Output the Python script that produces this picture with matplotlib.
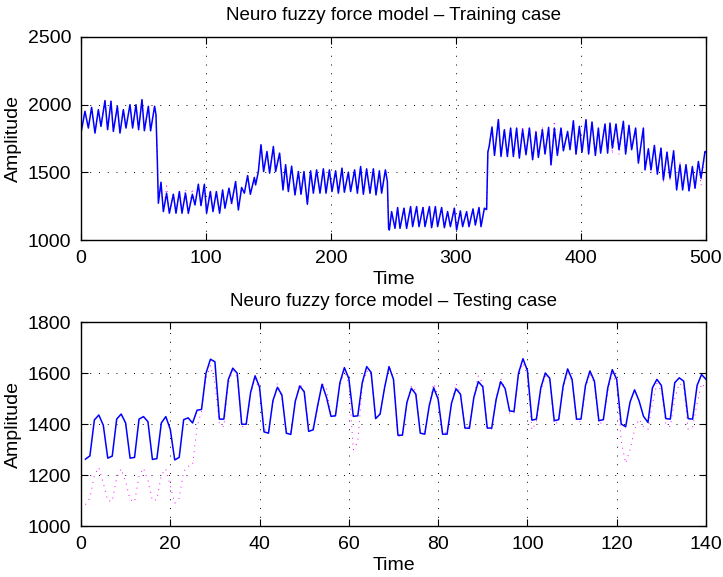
import matplotlib
matplotlib.use("Agg")
import matplotlib.pyplot as plt

plt.rcParams["font.family"] = ["Liberation Sans", "DejaVu Sans"]

# TRAINING CASE - turning points

train_t = [
    0, 3.2, 5.9, 8.5, 11.2, 13.9, 16.0, 19.2, 21.3, 24.0, 25.9, 29.1, 31.2,
    33.9, 36.0, 39.2, 41.3, 44.0, 46.1, 48.8, 50.7, 53.9, 55.7, 58.9, 60.0,
    61.1, 61.9, 64.0, 65.9, 68.5, 70.7, 73.9, 76.0, 78.7, 80.8, 83.6, 85.9,
    89.1, 91.2, 93.9, 96.0, 98.7, 100.5, 103.5, 105.6, 108.3, 110.9, 113.3,
    115.2, 118.4, 120.5, 123.7, 125.9, 128.5, 130.7, 133.3, 135.5, 138.7,
    139.7, 141.9, 144.0, 146.1, 148.8, 150.9, 153.9, 155.7, 158.9, 161.6,
    163.7, 165.9, 168.5, 171.2, 173.9, 176.0, 178.4, 181.1, 183.7, 185.9,
    188.5, 191.2, 193.9, 196.0, 198.7, 200.8, 203.7, 205.9, 208.8, 210.7,
    213.9, 215.7, 218.9, 221.1, 223.7, 225.9, 228.5, 231.2, 233.9, 236.0,
    238.7, 240.5, 243.5, 245.1, 246.1, 246.7, 248.5, 251.2, 253.3, 255.2,
    258.4, 260.5, 263.7, 265.3, 268.5, 270.4, 273.6, 275.2, 278.7, 280.5,
    283.5, 285.3, 288.5, 290.7, 293.3, 295.5, 298.7, 300.5, 303.5, 305.3,
    308.5, 310.4, 313.6, 315.5, 318.4, 320.0, 322.7, 324.5, 325.5, 326.5,
    328.8, 330.8, 333.9, 336.0, 338.7, 341.1, 343.7, 345.9, 348.5, 350.7,
    353.3, 356.0, 358.7, 361.3, 364.0, 365.9, 369.1, 371.2, 374.1, 376.0,
    378.7, 381.1, 384.0, 385.9, 389.3, 391.2, 393.9, 396.0, 398.7, 400.8,
    404.0, 406.1, 408.8, 411.5, 413.9, 415.7, 419.2, 421.3, 423.2, 425.1,
    428.0, 430.4, 433.9, 435.7, 438.4, 440.5, 443.7, 445.9, 449.9, 451.2,
    453.9, 456.0, 458.7, 461.1, 464.0, 465.9, 468.8, 471.2, 474.1, 476.5,
    479.2, 481.3, 484.0, 486.4, 489.1, 491.2, 493.9, 496.0, 499.2, 500,
]

train_model = [
    1790, 1951, 1827, 1980, 1790, 1963, 1839, 2030, 1815, 2025, 1802, 1988,
    1790, 1963, 1827, 2000, 1827, 2000, 1815, 2037, 1807, 1988, 1807, 1988,
    1926, 1580, 1272, 1427, 1210, 1346, 1198, 1338, 1198, 1358, 1198, 1346,
    1198, 1338, 1259, 1412, 1254, 1412, 1198, 1358, 1210, 1358, 1198, 1370,
    1235, 1383, 1272, 1432, 1222, 1388, 1346, 1476, 1338, 1462, 1407, 1506,
    1704, 1506, 1654, 1494, 1691, 1506, 1642, 1370, 1556, 1358, 1545, 1333,
    1506, 1338, 1506, 1264, 1511, 1346, 1518, 1346, 1526, 1346, 1518, 1358,
    1511, 1346, 1531, 1353, 1501, 1358, 1518, 1346, 1543, 1338, 1526, 1346,
    1526, 1333, 1511, 1346, 1518, 1432, 1086, 1074, 1210, 1086, 1240, 1086,
    1235, 1086, 1247, 1099, 1247, 1099, 1240, 1099, 1247, 1091, 1247, 1099,
    1240, 1091, 1210, 1099, 1235, 1074, 1215, 1099, 1210, 1099, 1230, 1111,
    1240, 1099, 1235, 1225, 1650, 1690, 1835, 1625, 1890, 1617, 1815, 1617,
    1827, 1617, 1827, 1605, 1815, 1630, 1827, 1593, 1797, 1610, 1815, 1635,
    1832, 1555, 1827, 1625, 1827, 1659, 1802, 1667, 1881, 1635, 1840, 1649,
    1889, 1635, 1872, 1625, 1827, 1642, 1857, 1642, 1864, 1679, 1857, 1667,
    1877, 1635, 1847, 1667, 1827, 1568, 1827, 1518, 1674, 1518, 1699, 1486,
    1679, 1444, 1649, 1457, 1659, 1370, 1556, 1370, 1556, 1363, 1543, 1383,
    1580, 1457, 1654, 1650,
]

train_actual = [
    1790, 1951, 1827, 1980, 1790, 1963, 1839, 2030, 1815, 2025, 1802, 1988,
    1790, 1963, 1827, 2000, 1827, 2000, 1815, 2037, 1807, 1988, 1807, 1988,
    1926, 1580, 1272, 1427, 1210, 1400, 1198, 1345, 1198, 1365, 1198, 1378,
    1190, 1380, 1259, 1412, 1254, 1412, 1198, 1375, 1210, 1358, 1198, 1370,
    1235, 1383, 1247, 1432, 1222, 1388, 1346, 1476, 1338, 1462, 1407, 1506,
    1704, 1506, 1654, 1494, 1691, 1506, 1642, 1370, 1556, 1358, 1545, 1333,
    1506, 1338, 1506, 1264, 1511, 1346, 1518, 1346, 1526, 1346, 1518, 1358,
    1511, 1346, 1531, 1353, 1501, 1358, 1518, 1346, 1543, 1338, 1526, 1346,
    1526, 1333, 1511, 1346, 1518, 1432, 1086, 1074, 1210, 1086, 1240, 1086,
    1235, 1086, 1247, 1099, 1247, 1099, 1240, 1099, 1247, 1091, 1247, 1099,
    1240, 1091, 1210, 1099, 1235, 1074, 1215, 1099, 1210, 1099, 1230, 1111,
    1240, 1099, 1235, 1225, 1650, 1690, 1835, 1625, 1890, 1617, 1815, 1617,
    1827, 1617, 1827, 1605, 1844, 1630, 1840, 1593, 1820, 1610, 1840, 1635,
    1840, 1555, 1881, 1625, 1840, 1659, 1802, 1667, 1881, 1635, 1840, 1649,
    1889, 1635, 1872, 1625, 1827, 1642, 1857, 1642, 1864, 1635, 1857, 1630,
    1877, 1635, 1847, 1667, 1827, 1568, 1827, 1518, 1674, 1490, 1699, 1486,
    1679, 1430, 1649, 1440, 1659, 1400, 1570, 1370, 1568, 1363, 1543, 1383,
    1580, 1402, 1654, 1650,
]

# TESTING CASE - one value per sample

test_t = list(range(1, 141))

test_model = [
    1263, 1276, 1417, 1436, 1396, 1267, 1275, 1420, 1440, 1405,
    1267, 1270, 1420, 1430, 1410, 1262, 1265, 1405, 1430, 1380,
    1260, 1270, 1418, 1425, 1405, 1455, 1458, 1600, 1655, 1645,
    1420, 1420, 1575, 1620, 1600, 1400, 1400, 1525, 1590, 1545,
    1370, 1365, 1493, 1545, 1515, 1365, 1360, 1490, 1550, 1527,
    1372, 1378, 1472, 1557, 1505, 1431, 1433, 1563, 1622, 1579,
    1431, 1433, 1563, 1626, 1603, 1422, 1440, 1543, 1626, 1576,
    1357, 1357, 1485, 1541, 1518, 1365, 1361, 1472, 1543, 1498,
    1361, 1361, 1483, 1539, 1518, 1385, 1384, 1505, 1567, 1547,
    1385, 1385, 1498, 1567, 1540, 1452, 1450, 1600, 1657, 1610,
    1416, 1420, 1543, 1601, 1580, 1414, 1418, 1550, 1617, 1576,
    1420, 1420, 1552, 1609, 1569, 1414, 1418, 1543, 1614, 1576,
    1401, 1390, 1488, 1535, 1492, 1431, 1407, 1543, 1576, 1552,
    1422, 1420, 1563, 1582, 1569, 1422, 1420, 1552, 1595, 1576,
]

test_actual = [
    1085, 1110, 1200, 1230, 1170, 1100, 1098, 1190, 1225, 1175,
    1105, 1095, 1195, 1228, 1180, 1100, 1105, 1200, 1225, 1160,
    1090, 1110, 1215, 1235, 1240, 1390, 1450, 1580, 1630, 1560,
    1400, 1390, 1560, 1610, 1585, 1390, 1395, 1520, 1580, 1530,
    1380, 1370, 1480, 1560, 1500, 1380, 1370, 1480, 1560, 1530,
    1390, 1385, 1460, 1560, 1540, 1440, 1430, 1550, 1610, 1560,
    1300, 1330, 1550, 1610, 1590, 1430, 1440, 1540, 1630, 1580,
    1350, 1360, 1480, 1550, 1530, 1370, 1370, 1480, 1560, 1510,
    1360, 1370, 1480, 1560, 1520, 1390, 1390, 1510, 1590, 1560,
    1390, 1380, 1500, 1580, 1540, 1440, 1445, 1590, 1640, 1590,
    1378, 1410, 1530, 1590, 1570, 1400, 1410, 1540, 1600, 1570,
    1410, 1410, 1540, 1600, 1560, 1400, 1410, 1530, 1600, 1560,
    1334, 1247, 1300, 1380, 1420, 1390, 1380, 1480, 1560, 1530,
    1400, 1390, 1500, 1560, 1550, 1380, 1390, 1480, 1560, 1540,
]

fig, (ax1, ax2) = plt.subplots(2, 1, figsize=(7.23, 5.77), dpi=100)
ax1.set_position([0.112, 0.584, 0.8645, 0.352])
ax2.set_position([0.112, 0.088, 0.8645, 0.3535])

panels = [
    (ax1, train_t, train_actual, train_model, "Neuro fuzzy force model \u2013 Training case",
     (0, 500), (1000, 2500), [0, 100, 200, 300, 400, 500], [1000, 1500, 2000, 2500]),
    (ax2, test_t, test_actual, test_model, "Neuro fuzzy force model \u2013 Testing case",
     (0, 140), (1000, 1800), [0, 20, 40, 60, 80, 100, 120, 140], [1000, 1200, 1400, 1600, 1800]),
]

for ax, t, actual, model, title, xl, yl, xt, yt in panels:
    ax.plot(t, actual, color="magenta", linestyle=(0, (1, 5)), linewidth=0.7)
    ax.plot(t, model, color="blue", linewidth=1.1, solid_joinstyle="round")
    ax.set_xlim(xl)
    ax.set_ylim(yl)
    ax.set_xticks(xt)
    ax.set_yticks(yt)
    ax.grid(True, color="black", linestyle=(0, (1, 8)), linewidth=0.7)
    ax.set_axisbelow(True)
    ax.tick_params(direction="in", top=True, right=True, length=5, width=0.8,
                   labelsize=14, pad=7)
    for sp in ax.spines.values():
        sp.set_linewidth(1.0)
    ax.set_title(title, fontsize=13.5, pad=12)
    ax.set_xlabel("Time", fontsize=14, labelpad=3)
    ax.set_ylabel("Amplitude", fontsize=14, labelpad=4)

fig.savefig("out.png", dpi=100)
